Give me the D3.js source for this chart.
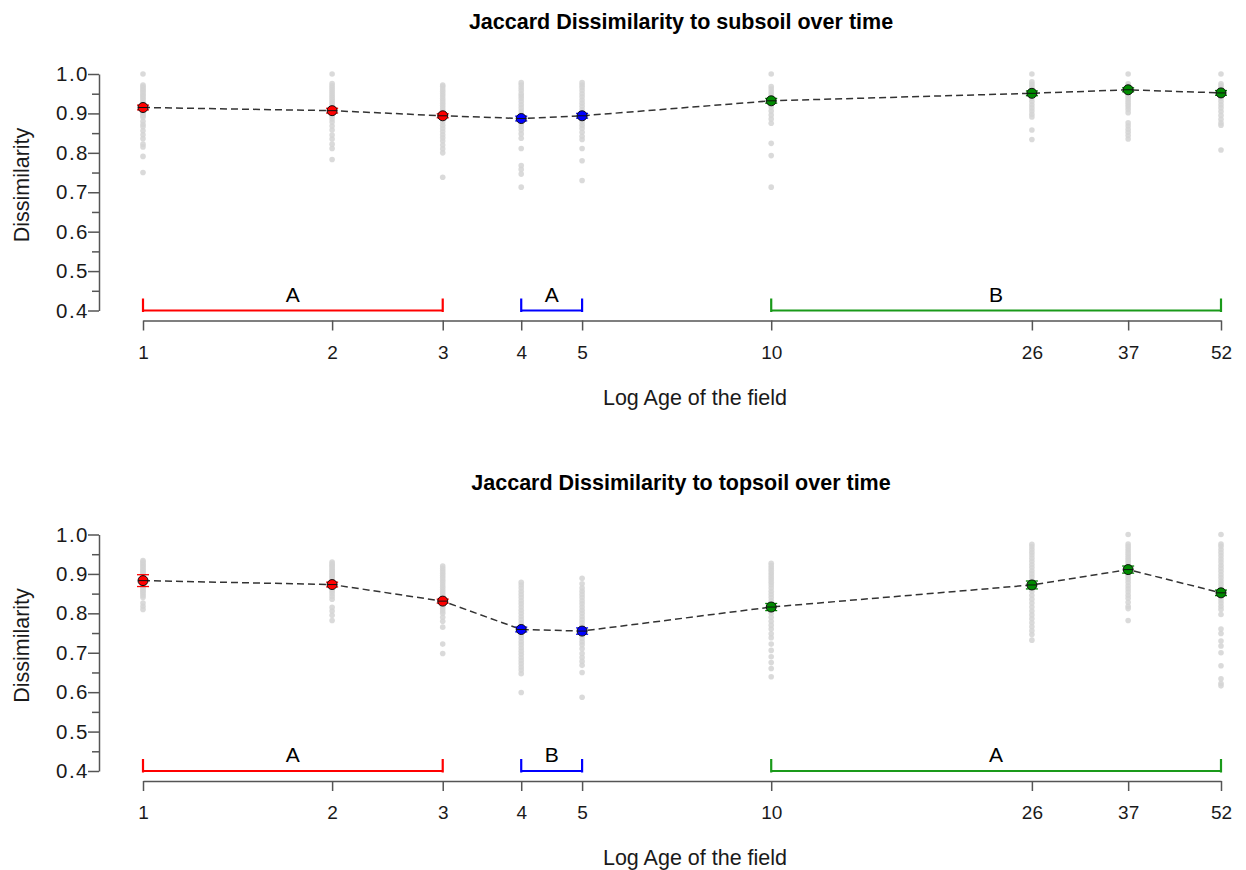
<!DOCTYPE html>
<html>
<head>
<meta charset="utf-8">
<script src="https://cdn.jsdelivr.net/npm/d3@7"></script>
<style>
  body { margin: 0; background: #fff; }
  svg { font-family: "Liberation Sans", Arial, sans-serif; }
</style>
</head>
<body>
<div id="chart"><svg width="1246" height="870"></svg></div>
<script>
// Data
let ages = [1, 2, 3, 4, 5, 10, 26, 37, 52];
let ageGroup = ["g1", "g1", "g1", "g2", "g2", "g3", "g3", "g3", "g3"];

let subsoilMean = [0.915, 0.907, 0.894, 0.887, 0.894, 0.932, 0.951, 0.960, 0.952];
let subsoilErr = [0.006, 0.006, 0.005, 0.006, 0.006, 0.006, 0.006, 0.005, 0.006];
let topsoilMean = [0.883, 0.873, 0.831, 0.759, 0.755, 0.816, 0.872, 0.911, 0.852];
let topsoilErr = [0.015, 0.006, 0.005, 0.006, 0.008, 0.009, 0.010, 0.009, 0.007];

let subsoilSamples = [
  [1.0, 0.972, 0.968, 0.964, 0.96, 0.956, 0.952, 0.948, 0.944, 0.94, 0.936, 0.93, 0.925, 0.92, 0.915, 0.91, 0.905, 0.9, 0.895, 0.89, 0.88, 0.872, 0.866, 0.856, 0.846, 0.836, 0.822, 0.815, 0.791, 0.75],
  [1.0, 0.976, 0.97, 0.965, 0.96, 0.955, 0.95, 0.945, 0.94, 0.935, 0.93, 0.925, 0.92, 0.915, 0.91, 0.905, 0.9, 0.893, 0.886, 0.878, 0.868, 0.858, 0.845, 0.835, 0.822, 0.811, 0.783],
  [0.972, 0.968, 0.962, 0.956, 0.95, 0.944, 0.938, 0.932, 0.926, 0.92, 0.914, 0.908, 0.9, 0.893, 0.886, 0.878, 0.87, 0.862, 0.854, 0.846, 0.838, 0.83, 0.82, 0.81, 0.8, 0.738],
  [0.978, 0.972, 0.965, 0.958, 0.95, 0.944, 0.938, 0.93, 0.922, 0.914, 0.906, 0.898, 0.89, 0.882, 0.874, 0.866, 0.858, 0.848, 0.837, 0.811, 0.768, 0.758, 0.746, 0.713],
  [0.978, 0.972, 0.966, 0.958, 0.95, 0.942, 0.934, 0.926, 0.918, 0.91, 0.902, 0.894, 0.886, 0.878, 0.87, 0.862, 0.852, 0.842, 0.834, 0.811, 0.78, 0.73],
  [1.0, 0.968, 0.962, 0.955, 0.948, 0.94, 0.932, 0.924, 0.916, 0.906, 0.896, 0.886, 0.875, 0.824, 0.793, 0.713],
  [1.0, 0.98, 0.974, 0.968, 0.962, 0.956, 0.95, 0.944, 0.938, 0.93, 0.922, 0.914, 0.906, 0.898, 0.891, 0.858, 0.834],
  [1.0, 0.975, 0.97, 0.965, 0.96, 0.955, 0.95, 0.945, 0.94, 0.934, 0.928, 0.922, 0.916, 0.91, 0.902, 0.876, 0.868, 0.86, 0.852, 0.844, 0.835],
  [1.0, 0.975, 0.97, 0.965, 0.96, 0.955, 0.95, 0.944, 0.938, 0.93, 0.922, 0.914, 0.905, 0.895, 0.885, 0.876, 0.87, 0.807]
];

let topsoilSamples = [
  [0.934, 0.93, 0.926, 0.922, 0.918, 0.914, 0.91, 0.906, 0.902, 0.898, 0.894, 0.89, 0.886, 0.882, 0.878, 0.874, 0.87, 0.866, 0.862, 0.858, 0.854, 0.85, 0.845, 0.84, 0.826, 0.818, 0.81],
  [0.93, 0.926, 0.922, 0.918, 0.914, 0.91, 0.906, 0.902, 0.898, 0.894, 0.89, 0.886, 0.882, 0.878, 0.874, 0.868, 0.862, 0.856, 0.85, 0.843, 0.836, 0.815, 0.806, 0.795, 0.782],
  [0.92, 0.914, 0.908, 0.902, 0.896, 0.89, 0.884, 0.878, 0.872, 0.866, 0.86, 0.854, 0.848, 0.842, 0.836, 0.83, 0.824, 0.818, 0.812, 0.806, 0.8, 0.79, 0.78, 0.765, 0.722, 0.698],
  [0.879, 0.872, 0.864, 0.856, 0.848, 0.84, 0.832, 0.824, 0.816, 0.808, 0.8, 0.792, 0.784, 0.776, 0.768, 0.76, 0.752, 0.744, 0.736, 0.728, 0.72, 0.712, 0.704, 0.696, 0.688, 0.68, 0.672, 0.664, 0.656, 0.647, 0.599],
  [0.889, 0.875, 0.864, 0.856, 0.848, 0.84, 0.832, 0.824, 0.816, 0.808, 0.8, 0.792, 0.784, 0.776, 0.768, 0.76, 0.752, 0.744, 0.736, 0.728, 0.72, 0.71, 0.698, 0.688, 0.678, 0.668, 0.65, 0.587],
  [0.927, 0.921, 0.915, 0.909, 0.903, 0.897, 0.891, 0.885, 0.879, 0.872, 0.864, 0.856, 0.848, 0.84, 0.832, 0.824, 0.81, 0.8, 0.79, 0.78, 0.77, 0.76, 0.748, 0.738, 0.722, 0.706, 0.69, 0.675, 0.66, 0.639],
  [0.975, 0.969, 0.962, 0.955, 0.948, 0.94, 0.932, 0.924, 0.916, 0.908, 0.9, 0.892, 0.884, 0.876, 0.866, 0.856, 0.846, 0.836, 0.826, 0.816, 0.806, 0.796, 0.786, 0.776, 0.766, 0.756, 0.746, 0.732],
  [1.0, 0.976, 0.97, 0.964, 0.958, 0.952, 0.946, 0.94, 0.934, 0.928, 0.922, 0.916, 0.91, 0.904, 0.898, 0.892, 0.886, 0.878, 0.87, 0.862, 0.854, 0.846, 0.838, 0.828, 0.818, 0.812, 0.782],
  [1.0, 0.976, 0.97, 0.962, 0.954, 0.946, 0.938, 0.93, 0.922, 0.914, 0.906, 0.898, 0.89, 0.882, 0.874, 0.866, 0.858, 0.85, 0.842, 0.834, 0.826, 0.818, 0.81, 0.797, 0.76, 0.749, 0.73, 0.717, 0.7, 0.667, 0.634, 0.622, 0.616]
];

// Significance brackets
let bracketGroups = ["g1", "g2", "g3"];
let bracketFrom = [1, 4, 10];
let bracketTo = [3, 5, 52];
let subsoilLetters = ["A", "A", "B"];
let topsoilLetters = ["A", "B", "A"];

let yTicks = [0.4, 0.5, 0.6, 0.7, 0.8, 0.9, 1.0];
let yMinorTicks = [0.45, 0.55, 0.65, 0.75, 0.85, 0.95];

// Colors
let colors = {
  "g1": "#FF0000",
  "g2": "#0000FF",
  "g3": "#008B00",
  "bracket_g3": "#1A9A1A",
  "axis": "#555555",
  "text": "#1a1a1a",
  "sample": "#d4d4d4",
  "line": "#333333"
};

let svg = d3.select("div#chart svg");

let x = d3.scaleLog()
  .domain([1, 52])
  .range([143, 1221]);

let panels = [
  { title: "Jaccard Dissimilarity to subsoil over time", top: 74, mean: subsoilMean, err: subsoilErr, samples: subsoilSamples, letters: subsoilLetters },
  { title: "Jaccard Dissimilarity to topsoil over time", top: 534.5, mean: topsoilMean, err: topsoilErr, samples: topsoilSamples, letters: topsoilLetters }
];

panels.forEach(function (p) {
  let y = d3.scaleLinear()
    .domain([0.4, 1.0])
    .range([p.top + 236.5, p.top]);
  let g = svg.append("g");
  let xAxisY = y(0.4) + 10;

  // Title
  g.append("text")
    .attr("x", 681)
    .attr("y", p.top - 45)
    .text(p.title)
    .style("font-size", "21.5px")
    .style("font-weight", "bold")
    .style("text-anchor", "middle")
    .style("fill", "#000");

  // Y axis (major + minor ticks)
  let yAxis = g.append("g")
    .attr("class", "axis axis_y")
    .attr("transform", "translate(99,0)")
    .style("color", colors.axis)
    .call(d3.axisLeft(y).tickValues(yTicks).tickSize(11).tickSizeOuter(0).tickFormat(d3.format(".1f")));
  yAxis.selectAll("text")
    .style("font-size", "20.5px")
    .style("letter-spacing", "1.5px")
    .style("font-family", "Liberation Sans, Arial, sans-serif")
    .style("fill", colors.text)
    .attr("x", -10);
  yAxis.selectAll("line, path").attr("stroke-width", 1.5);

  g.append("g")
    .attr("transform", "translate(99,0)")
    .style("color", colors.axis)
    .call(d3.axisLeft(y).tickValues(yMinorTicks).tickSize(7).tickSizeOuter(0).tickFormat(""))
    .call(a => a.select(".domain").remove())
    .selectAll("line").attr("stroke-width", 1.5);

  g.append("text")
    .attr("transform", "rotate(-90)")
    .attr("x", -(p.top + 111))
    .attr("y", 29)
    .text("Dissimilarity")
    .style("font-size", "21.5px")
    .style("text-anchor", "middle")
    .style("fill", colors.text);

  // X axis
  let xAxis = g.append("g")
    .attr("class", "axis axis_x")
    .attr("transform", "translate(0," + xAxisY + ")")
    .style("color", colors.axis)
    .call(d3.axisBottom(x).tickValues(ages).tickSize(10).tickSizeOuter(0).tickFormat(d3.format("d")));
  xAxis.selectAll("text")
    .style("font-size", "19px")
    .style("font-family", "Liberation Sans, Arial, sans-serif")
    .style("fill", colors.text)
    .attr("y", 25);
  xAxis.selectAll("line, path").attr("stroke-width", 1.5);

  g.append("text")
    .attr("x", 695)
    .attr("y", xAxisY + 84)
    .text("Log Age of the field")
    .style("font-size", "21.5px")
    .style("text-anchor", "middle")
    .style("fill", colors.text);

  // Brackets
  bracketGroups.forEach(function (grp, i) {
    let c = grp === "g3" ? colors.bracket_g3 : colors[grp];
    let b = g.append("g").attr("class", "bracket");
    let by = y(0.4);
    b.append("line")
      .attr("x1", x(bracketFrom[i])).attr("x2", x(bracketTo[i]))
      .attr("y1", by).attr("y2", by)
      .attr("stroke", c).attr("stroke-width", 2.2);
    [bracketFrom[i], bracketTo[i]].forEach(function (v) {
      b.append("line")
        .attr("x1", x(v)).attr("x2", x(v))
        .attr("y1", by - 12).attr("y2", by + 1.5)
        .attr("stroke", c).attr("stroke-width", 2.2);
    });
    b.append("text")
      .attr("x", (x(bracketFrom[i]) + x(bracketTo[i])) / 2)
      .attr("y", by - 9)
      .text(p.letters[i])
      .style("font-size", "21px")
      .style("text-anchor", "middle")
      .style("fill", "#000");
  });

  // Raw sample points
  ages.forEach(function (a, i) {
    g.append("g")
      .attr("class", "samples")
      .selectAll("circle")
      .data(p.samples[i])
      .enter()
      .append("circle")
      .attr("cx", x(a))
      .attr("cy", d => y(d))
      .attr("r", 2.8)
      .attr("fill", colors.sample)
      .attr("fill-opacity", 0.85);
  });

  // Dashed mean line
  let line = d3.line()
    .x((d, i) => x(ages[i]))
    .y(d => y(d));
  g.append("path")
    .datum(p.mean)
    .attr("d", line)
    .attr("fill", "none")
    .attr("stroke", colors.line)
    .attr("stroke-width", 1.5)
    .attr("stroke-dasharray", "7,4");

  // Error bars + mean points
  ages.forEach(function (a, i) {
    let cx = x(a);
    let c = colors[ageGroup[i]];
    let eg = g.append("g").attr("class", "errbar");
    eg.append("line")
      .attr("x1", cx).attr("x2", cx)
      .attr("y1", y(p.mean[i] - p.err[i])).attr("y2", y(p.mean[i] + p.err[i]))
      .attr("stroke", c).attr("stroke-width", 1.3);
    [p.mean[i] - p.err[i], p.mean[i] + p.err[i]].forEach(function (v) {
      eg.append("line")
        .attr("x1", cx - 6).attr("x2", cx + 6)
        .attr("y1", y(v)).attr("y2", y(v))
        .attr("stroke", c).attr("stroke-width", 1.3);
    });
    eg.append("circle")
      .attr("cx", cx)
      .attr("cy", y(p.mean[i]))
      .attr("r", 5)
      .attr("fill", c)
      .attr("stroke", "#111")
      .attr("stroke-width", 1);
    eg.append("line")
      .attr("x1", cx - 5).attr("x2", cx + 5)
      .attr("y1", y(p.mean[i])).attr("y2", y(p.mean[i]))
      .attr("stroke", "#111").attr("stroke-width", 1);
  });
});
</script>
</body>
</html>
